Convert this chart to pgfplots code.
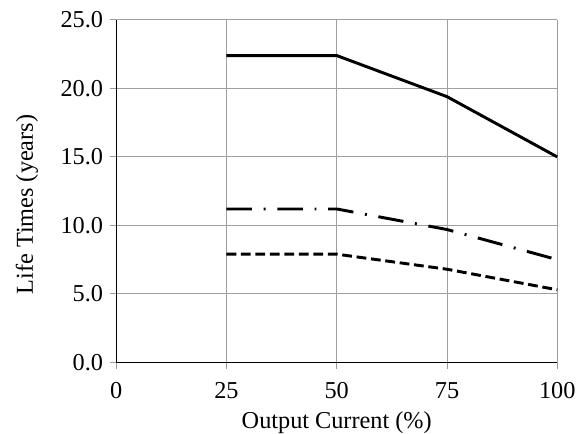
\documentclass[border=0pt]{standalone}
\usepackage{fontspec}
\setmainfont{Liberation Serif}
\usepackage{pgfplots}
\pgfplotsset{compat=1.18}
\begin{document}
\begin{tikzpicture}
\begin{axis}[
  scale only axis,
  width=225.4pt, height=175pt,
  xmin=0, xmax=100, ymin=0, ymax=25,
  xtick={0,25,50,75,100},
  ytick={0,5,10,15,20,25},
  /pgf/number format/assume math mode=true,
  yticklabel style={/pgf/number format/fixed,/pgf/number format/fixed zerofill,/pgf/number format/precision=1},
  tick label style={font=\fontsize{12.4}{14.5}\selectfont},
  label style={font=\fontsize{12.4}{14.5}\selectfont},
  xticklabel style={yshift=-3.5pt},
  axis x line*=bottom, axis y line*=left,
  axis line style={-, black, line width=0.6pt},
  tick align=outside,
  major tick length=3.2pt,
  tick style={gray!80, line width=0.5pt},
  grid=major,
  major grid style={gray!75, line width=0.5pt},
  xlabel={Output Current (\%)},
  ylabel={Life Times (years)},
  xlabel style={at={(axis description cs:0.5,-0.175)}, anchor=center},
  ylabel style={at={(axis description cs:-0.2025,0.461)}, anchor=center, rotate=0},
  clip=false,
]
\addplot[black, line width=1.5pt] coordinates {(25,22.4) (50,22.4) (75,19.4) (100,15.0)};
\addplot[black, line width=1.5pt, dash pattern=on 13pt off 6pt on 1pt off 6pt] coordinates {(25,11.2) (50,11.2) (75,9.7) (100,7.5)};
\addplot[black, line width=1.5pt, dash pattern=on 5pt off 2.4pt] coordinates {(25,7.9) (50,7.9) (75,6.8) (100,5.3)};
\end{axis}
\pgfresetboundingbox
\path (current axis.south west) ++(-59.4pt,-36.6pt) coordinate (bbA);
\path (current axis.south west) ++(240.6pt,185.2pt) coordinate (bbB);
\path (bbA) rectangle (bbB);
\end{tikzpicture}
\end{document}
